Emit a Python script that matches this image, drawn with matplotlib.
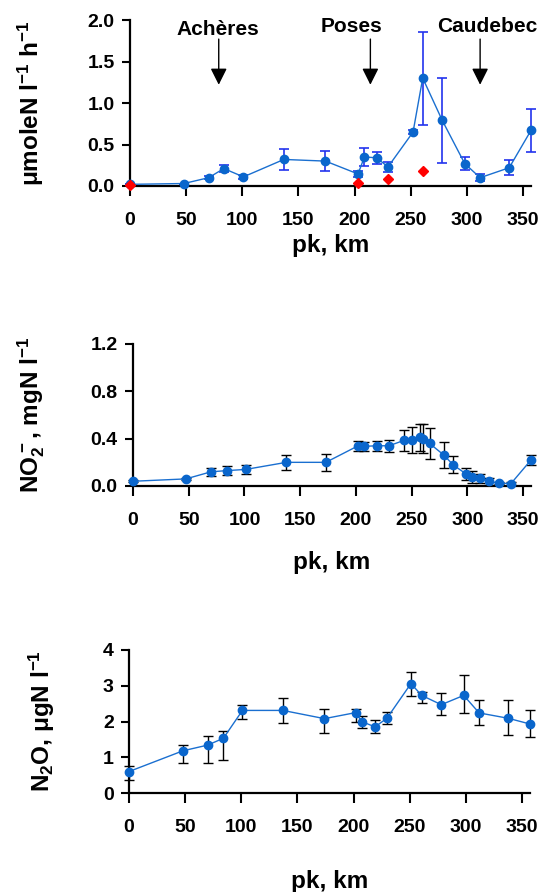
import matplotlib
matplotlib.use("Agg")
import matplotlib.pyplot as plt

plt.rcParams['font.family'] = ['Liberation Sans', 'DejaVu Sans']
plt.rcParams['font.weight'] = 'bold'
plt.rcParams['mathtext.default'] = 'regular'

# ---- Panel 1: rates ----
km1 = [0, 48, 70, 83.5, 101, 137, 174, 203, 208.7, 219.5, 229.7, 252, 260.6, 278, 298, 311.7, 337.6, 357]
rate1 = [0.02, 0.03, 0.10, 0.21, 0.11, 0.32, 0.30, 0.145, 0.35, 0.34, 0.23, 0.65, 1.30, 0.79, 0.27, 0.10, 0.22, 0.67]
rate1_err = [0.0, 0.0, 0.02, 0.04, 0.02, 0.13, 0.12, 0.04, 0.11, 0.07, 0.06, 0.02, 0.56, 0.51, 0.08, 0.04, 0.09, 0.26]
km_red = [0, 203, 230, 261]
rate_red = [0.01, 0.04, 0.08, 0.18]

sites = ["Achères", "Poses", "Caudebec"]
site_km = [79, 214, 311.7]
site_text_km = [78, 197, 318]

# ---- Panel 2: NO2- ----
km2 = [0, 47.4, 70, 84, 101, 137.6, 173, 202, 207, 219, 229.6, 243, 250, 257, 260, 266, 279, 287, 299, 304, 311, 319, 328, 339, 357]
no2 = [0.04, 0.06, 0.12, 0.13, 0.14, 0.20, 0.20, 0.34, 0.335, 0.34, 0.34, 0.385, 0.39, 0.41, 0.40, 0.36, 0.26, 0.18, 0.10, 0.075, 0.065, 0.04, 0.025, 0.02, 0.22]
no2_err = [0.01, 0.01, 0.035, 0.04, 0.04, 0.065, 0.07, 0.04, 0.04, 0.04, 0.05, 0.09, 0.11, 0.11, 0.12, 0.13, 0.11, 0.07, 0.05, 0.05, 0.04, 0.03, 0.01, 0.01, 0.04]

# ---- Panel 3: N2O ----
km3 = [0, 48, 70, 84, 101, 137, 174, 202, 207, 219, 229.6, 251, 260.6, 278, 298, 311.7, 337.6, 357]
n2o = [0.60, 1.18, 1.34, 1.53, 2.31, 2.31, 2.08, 2.25, 2.00, 1.85, 2.09, 3.06, 2.73, 2.47, 2.73, 2.24, 2.09, 1.93]
n2o_lo = [0.36, 0.85, 0.85, 0.92, 2.06, 1.96, 1.67, 2.00, 1.82, 1.68, 1.92, 2.70, 2.52, 2.18, 2.25, 1.90, 1.63, 1.56]
n2o_hi = [0.75, 1.35, 1.60, 1.73, 2.47, 2.67, 2.35, 2.35, 2.16, 2.05, 2.27, 3.38, 2.83, 2.80, 3.30, 2.60, 2.60, 2.32]

xticks = [0, 50, 100, 150, 200, 250, 300, 350]

W, H = 542, 892
fig = plt.figure(figsize=(W / 100, H / 100), dpi=100)

def make_ax(left, right, top, bottom):
    return fig.add_axes([left / W, 1 - bottom / H, (right - left) / W, (bottom - top) / H])

ax1 = make_ax(130, 531, 20, 186)
ax2 = make_ax(133, 531, 344, 486)
ax3 = make_ax(129, 530, 650, 793)

line_col = '#1a6fd0'
pt_col = '#0a66cc'

def style(ax, ylim, yticks, yfmt, xlab_y, ylab_x, ylabel):
    ax.set_xlim(0, 357)
    ax.set_ylim(*ylim)
    ax.set_xticks(xticks)
    ax.set_yticks(yticks)
    ax.set_yticklabels([yfmt.format(v) for v in yticks])
    for s in ['top', 'right']:
        ax.spines[s].set_visible(False)
    for s in ['left', 'bottom']:
        ax.spines[s].set_linewidth(1.6)
    ax.tick_params(axis='x', direction='out', length=7, width=1.5, pad=12, labelsize=14)
    ax.tick_params(axis='y', direction='out', length=6, width=1.5, pad=5, labelsize=14)
    for lab in ax.get_xticklabels() + ax.get_yticklabels():
        lab.set_fontweight('bold')
    ax.set_xlabel('pk, km', fontsize=17.5, fontweight='bold')
    ax.xaxis.set_label_coords(0.5, xlab_y)
    ax.set_ylabel(ylabel, fontsize=17.5, fontweight='bold')
    ax.yaxis.set_label_coords(ylab_x, 0.5)

# Panel 1
ax1.errorbar(km1, rate1, yerr=rate1_err, fmt='none', ecolor='#2233ee', elinewidth=1.2,
             capsize=3.5, capthick=1.2, clip_on=False, zorder=2)
ax1.plot(km1, rate1, '-', color=line_col, lw=1.0, marker='o', ms=6,
         mfc=pt_col, mec=pt_col, clip_on=False, zorder=3)
ax1.plot(km_red, rate_red, 'D', color='#ff0000', ms=5, clip_on=False, zorder=4)
for k in site_km:
    ax1.annotate('', xy=(k, 1.22), xytext=(k, 1.77),
                 arrowprops=dict(arrowstyle='-|>,head_length=1.0,head_width=0.5',
                                 color='black', lw=1.0, shrinkA=0, shrinkB=0))
for name, tk, ty in zip(sites, site_text_km, [1.88, 1.92, 1.92]):
    ax1.text(tk, ty, name, ha='center', va='center', fontsize=15, fontweight='bold',
             clip_on=False)
style(ax1, (0, 2.0), [0.0, 0.5, 1.0, 1.5, 2.0], '{:.1f}', -0.29, -0.21,
      'μmoleN l$^{-1}$ h$^{-1}$')

# Panel 2
ax2.errorbar(km2, no2, yerr=no2_err, fmt='none', ecolor='black', elinewidth=1.0,
             capsize=3.5, capthick=1.0, clip_on=False, zorder=2)
ax2.plot(km2, no2, '-', color=line_col, lw=1.0, marker='o', ms=6,
         mfc=pt_col, mec=pt_col, clip_on=False, zorder=3)
style(ax2, (0, 1.2), [0.0, 0.4, 0.8, 1.2], '{:.1f}', -0.46, -0.215,
      'NO$_2^-$, mgN l$^{-1}$')

# Panel 3
n2o_err = [[v - lo for v, lo in zip(n2o, n2o_lo)], [hi - v for v, hi in zip(n2o, n2o_hi)]]
ax3.errorbar(km3, n2o, yerr=n2o_err, fmt='none', ecolor='black', elinewidth=1.0,
             capsize=3.5, capthick=1.0, clip_on=False, zorder=2)
ax3.plot(km3, n2o, '-', color=line_col, lw=1.0, marker='o', ms=6,
         mfc=pt_col, mec=pt_col, clip_on=False, zorder=3)
style(ax3, (0, 4), [0, 1, 2, 3, 4], '{:d}', -0.54, -0.18,
      'N$_2$O, μgN l$^{-1}$')

fig.savefig('out.png', dpi=100)
